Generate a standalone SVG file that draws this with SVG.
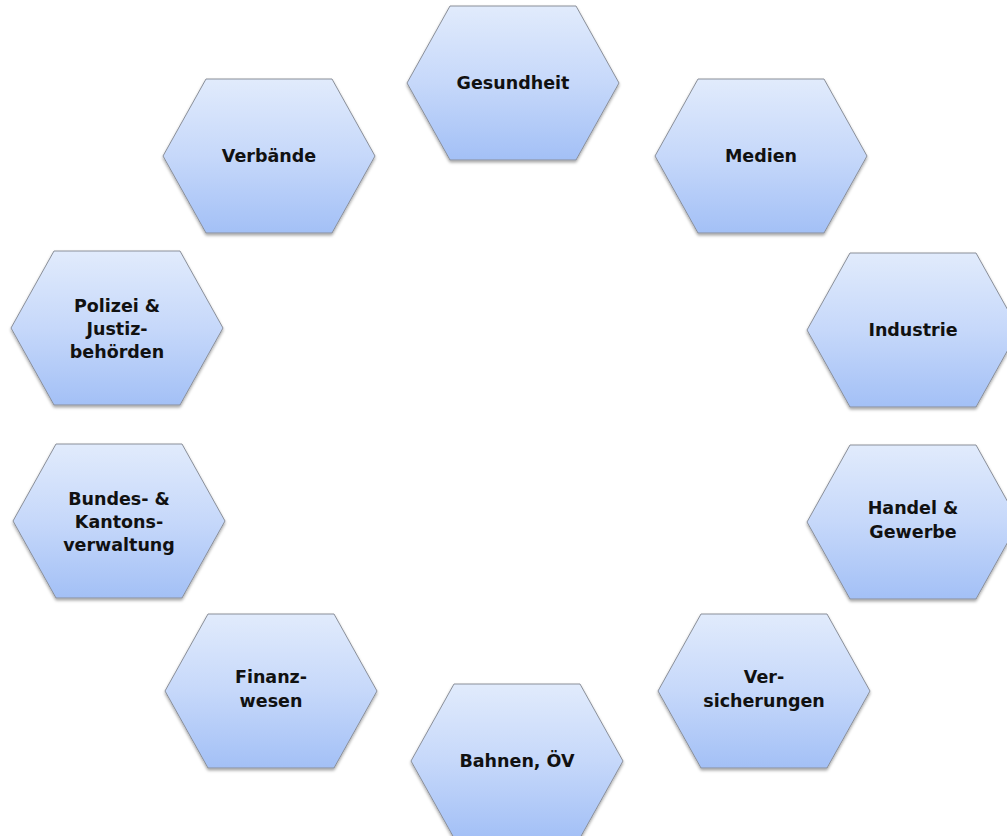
<svg xmlns="http://www.w3.org/2000/svg" width="1007" height="836" viewBox="0 0 1007 836">
<defs>
<linearGradient id="g" x1="0" y1="0" x2="0" y2="1">
<stop offset="0" stop-color="#e1ebfc"/>
<stop offset="0.5" stop-color="#c6d8fa"/>
<stop offset="1" stop-color="#a3c0f6"/>
</linearGradient>
<filter id="sh" x="-10%" y="-10%" width="120%" height="125%">
<feDropShadow dx="0" dy="2" stdDeviation="1.5" flood-color="#000" flood-opacity="0.35"/>
</filter>
<polygon id="hex" points="-106,0 -63,-77 63,-77 106,0 63,77 -63,77"/>
</defs>
<style>
.h{fill:url(#g);stroke:#8a8f99;stroke-width:1;filter:url(#sh)}
.t{font-family:"DejaVu Sans",sans-serif;font-weight:bold;font-size:17.5px;fill:#111;text-anchor:middle}
</style>
<rect width="1007" height="836" fill="#fff"/>
<g id="connectors"/>
<g id="gesundheit" transform="translate(513,83)"><use href="#hex" class="h"/><text class="t" y="6">Gesundheit</text></g>
<g id="medien" transform="translate(761,156)"><use href="#hex" class="h"/><text class="t" y="6">Medien</text></g>
<g id="industrie" transform="translate(913,330)"><use href="#hex" class="h"/><text class="t" y="6">Industrie</text></g>
<g id="handel" transform="translate(913,522)"><use href="#hex" class="h"/><text class="t" y="-8">Handel &amp;</text><text class="t" y="16">Gewerbe</text></g>
<g id="versicherungen" transform="translate(764,691)"><use href="#hex" class="h"/><text class="t" y="-8">Ver-</text><text class="t" y="16">sicherungen</text></g>
<g id="bahnen" transform="translate(517,761)"><use href="#hex" class="h"/><text class="t" y="6">Bahnen, ÖV</text></g>
<g id="finanz" transform="translate(271,691)"><use href="#hex" class="h"/><text class="t" y="-8">Finanz-</text><text class="t" y="16">wesen</text></g>
<g id="bundes" transform="translate(119,521)"><use href="#hex" class="h"/><text class="t" y="-16">Bundes- &amp;</text><text class="t" y="7">Kantons-</text><text class="t" y="30">verwaltung</text></g>
<g id="polizei" transform="translate(117,328)"><use href="#hex" class="h"/><text class="t" y="-16">Polizei &amp;</text><text class="t" y="7">Justiz-</text><text class="t" y="30">behörden</text></g>
<g id="verbaende" transform="translate(269,156)"><use href="#hex" class="h"/><text class="t" y="6">Verbände</text></g>
</svg>
